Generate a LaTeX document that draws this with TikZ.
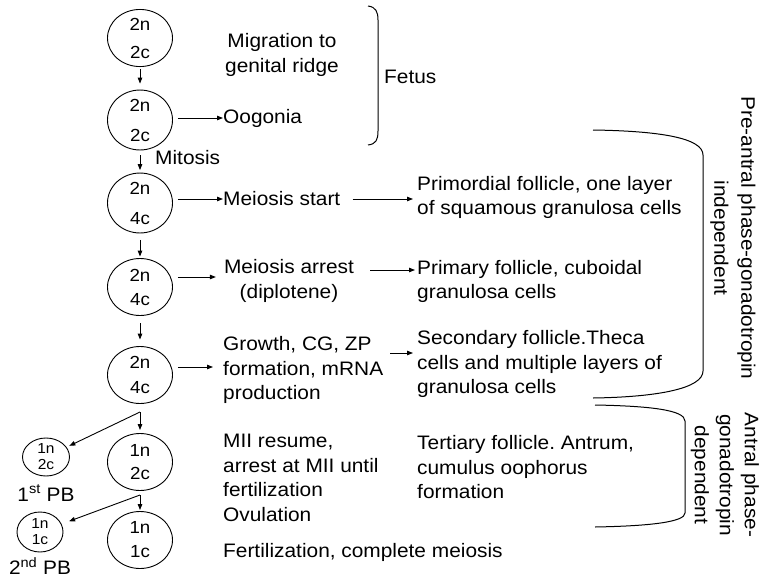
\documentclass[tikz,border=0pt]{standalone}
\usepackage{fontspec}
\setmainfont{Liberation Sans}[FakeStretch=1.07]
\usetikzlibrary{shapes.geometric,arrows.meta,calc}
\frenchspacing
\begin{document}
\begin{tikzpicture}[x=1pt,y=-1pt,
  txt/.style={inner sep=0pt, align=left, font=\fontsize{19.5}{24.5}\selectfont},
  ctxt/.style={txt, align=center},
  cell/.style={draw, ellipse, line width=0.9pt, minimum width=65pt, minimum height=57pt, inner sep=0pt, align=center, font=\fontsize{17.5}{#1}\selectfont},
  cell/.default=27,
  pbcell/.style={draw, ellipse, line width=0.9pt, minimum width=47pt, minimum height=38pt, inner sep=0pt, align=center, font=\fontsize{14.5}{16}\selectfont},
  arr/.style={line width=0.9pt, -{Triangle[length=6pt,width=4.5pt]}},
  brk/.style={line width=1pt},
  vtxt/.style={inner sep=0pt, align=center, rotate=-90}]
\useasboundingbox (0,0) rectangle (761,581);

% cells
\node[cell=28, minimum height=50pt] (e1) at (140,38) {2n\\2c};
\node[cell=30, minimum height=50pt] (e2) at (140,120) {2n\\2c};
\node[cell=30] (e3) at (140,203) {2n\\4c};
\node[cell=24] (e4) at (140,287) {2n\\4c};
\node[cell=25] (e5) at (140,375) {2n\\4c};
\node[cell=23] (e6) at (140,462) {1n\\2c};
\node[cell=24] (e7) at (140,540) {1n\\1c};
\node[pbcell] (pb1) at (46,457) {1n\\2c};
\node[pbcell, minimum width=46pt, minimum height=40pt] (pb2) at (40,532) {1n\\1c};
\node[ctxt] (pbl1) at (46,493) {1\textsuperscript{st} PB};
\node[ctxt] (pbl2) at (40,566) {2\textsuperscript{nd} PB};

% texts
\node[ctxt] (mig) at (282,55) {Migration to\\genital ridge};
\node[txt, anchor=west] (oog) at (223,118) {Oogonia};
\node[txt, anchor=west] (fet) at (384,77) {Fetus};
\node[txt, anchor=west] (mit) at (155,158) {Mitosis};
\node[txt, anchor=west] (ms) at (223,199) {Meiosis start};
\node[txt, anchor=west] (prim) at (417,197.5) {Primordial follicle, one layer\\of squamous granulosa cells};
\node[ctxt] (ma) at (289,281) {Meiosis arrest\\(diplotene)};
\node[txt, anchor=west] (pri) at (417,281.5) {Primary follicle, cuboidal\\granulosa cells};
\node[txt, anchor=west] (gr) at (223,370) {Growth, CG, ZP\\formation, mRNA\\production};
\node[txt, anchor=west] (sec) at (417,364) {Secondary follicle.Theca\\cells and multiple layers of\\granulosa cells};
\node[txt, anchor=west] (mii) at (223,478) {MII resume,\\arrest at MII until\\fertilization\\Ovulation};
\node[txt, anchor=west] (ter) at (417,467.5) {Tertiary follicle. Antrum,\\cumulus oophorus\\formation};
\node[txt, anchor=west] (fer) at (223,552) {Fertilization, complete meiosis};
\node[vtxt, font=\fontsize{19.5}{27}\selectfont] (pre) at (733,238) {Pre-antral phase-gonadotropin\\independent};
\node[vtxt, font=\fontsize{19.5}{25}\selectfont] (ant) at (725,475) {Antral phase-\\gonadotropin\\dependent};

% vertical arrows
\draw[arr, shorten <=2pt, shorten >=6pt] (e1) -- (e2);
\draw[arr, shorten <=5pt, shorten >=2.5pt] (e2) -- (e3);
\draw[arr, shorten <=6.5pt, shorten >=1.5pt] (e3) -- (e4);
\draw[arr, shorten <=7.5pt, shorten >=6.5pt] (e4) -- (e5);
\coordinate (f1) at (140,412);
\coordinate (f2) at (140,495);
\draw[arr, shorten >=3pt] (f1) -- (e6);
\draw[arr, shorten >=3pt] (f1) -- (pb1);
\draw[arr, shorten >=1pt] (f2) -- (e7);
\draw[arr, shorten >=8pt] (f2) -- (pb2);

% horizontal arrows
\draw[arr, shorten <=5pt] (e2.east |- oog.west) -- (oog.west);
\draw[arr, shorten <=5pt] (e3.east |- ms.west) -- (ms.west);
\draw[arr, shorten <=12pt, shorten >=4pt] (ms.east) -- (ms.east -| prim.west);
\coordinate (ma0) at ([yshift=4pt]ma.west);
\draw[arr, shorten <=5pt, shorten >=8pt] (e4.east |- ma0) -- (ma0);
\coordinate (ma1) at ([yshift=11pt]ma.east);
\draw[arr, shorten <=16pt, shorten >=2pt] (ma1) -- (ma1 -| pri.west);
\coordinate (gr0) at ([yshift=3pt]gr.west);
\draw[arr, shorten <=5pt, shorten >=10pt] (e5.east |- gr0) -- (gr0);
\coordinate (gr1) at ([yshift=17pt]gr.east);
\draw[arr, shorten <=7pt, shorten >=4pt] (gr1) -- (gr1 -| sec.west);

% brackets
\draw[brk] (368,6) .. controls (376,7) and (378,12) .. (378,20) -- (378,131) .. controls (378,140) and (376,144) .. (368,145);
\draw[brk] (593,130) .. controls (660,131) and (703,138) .. (703,155) -- (703,371) .. controls (703,388) and (660,397) .. (593,398);
\draw[brk] (595,405) .. controls (650,406) and (685,410) .. (685,421) -- (685,513) .. controls (685,522) and (650,526) .. (595,527);
\end{tikzpicture}
\end{document}
